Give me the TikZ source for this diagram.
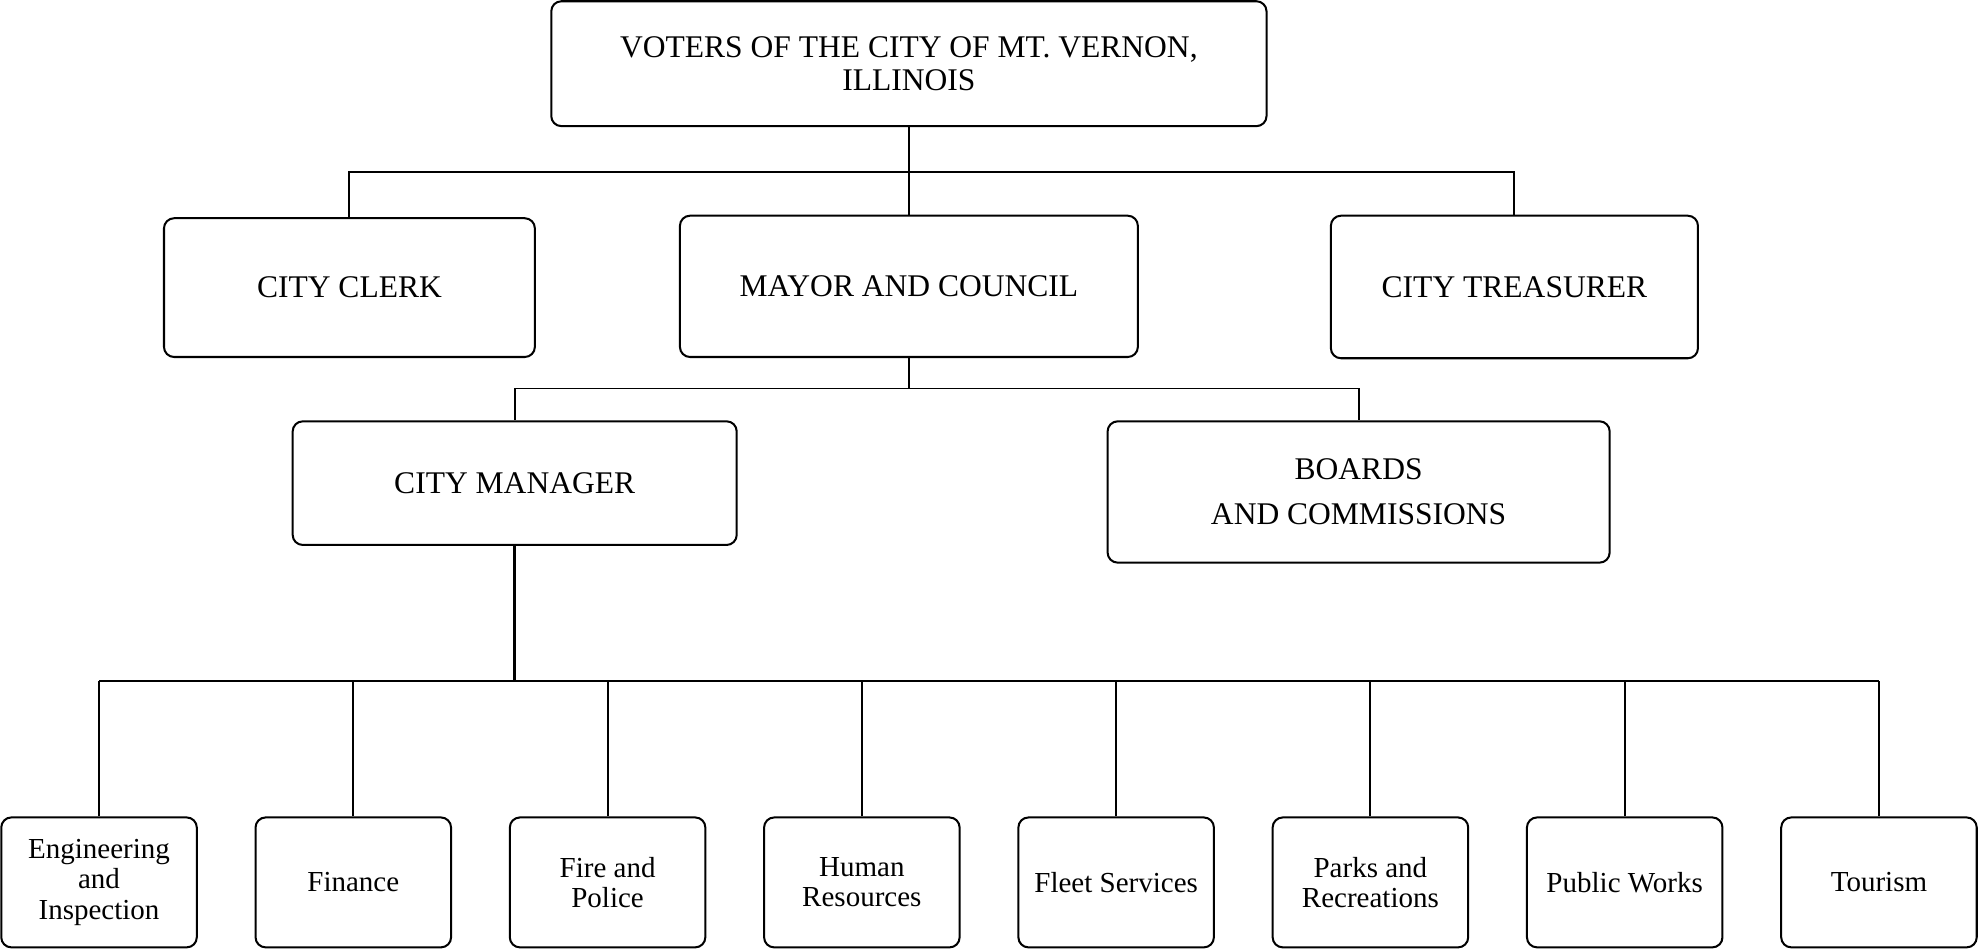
\documentclass[tikz,border=0pt]{standalone}
\usepackage{fontspec}
\setmainfont{Liberation Serif}
\usetikzlibrary{positioning}

\tikzset{
  office/.style={draw, rounded corners=4pt, line width=0.8pt, align=center,
                 inner sep=0pt, font=\fontsize{12.5}{13}\selectfont},
  dept/.style={office, minimum width=77.5pt, minimum height=51.5pt,
               font=\fontsize{11.5}{12}\selectfont},
  link/.style={line width=0.75pt},
  mainlink/.style={line width=1.2pt}
}

\begin{document}
\begin{tikzpicture}[x=0.5pt, y=-0.5pt]
  \useasboundingbox (0,0) rectangle (1568,753);
  % Top node
  \node(voters)[office, minimum width=283.5pt, minimum height=49.5pt] at (720.5,50.5)
       {VOTERS OF THE CITY OF MT. VERNON,\\ILLINOIS};
  % Elected offices
  \node(clerk)[office, minimum width=147pt, minimum height=55pt] at (277,228) {CITY CLERK};
  \node(mayor)[office, minimum width=181.5pt, minimum height=56pt] at (720.5,227) {MAYOR AND COUNCIL};
  \node(treasurer)[office, minimum width=145.5pt, minimum height=56.5pt] at (1200.5,227.5) {CITY TREASURER};
  % Appointed by council
  \node(manager)[office, minimum width=176pt, minimum height=49pt] at (408,383) {CITY MANAGER};
  \node(boards)[office, minimum width=199pt, minimum height=56pt,
                font=\fontsize{12.5}{18}\selectfont] at (1077,390) {BOARDS\\AND COMMISSIONS};
  % Bus coordinates
  \coordinate (topbus) at (720.5,136);
  \coordinate (midbus) at (720.5,308);
  \coordinate (deptbus) at (408,540);
  % Arrows
  \draw[link] (voters.south) -- (mayor.north);
  \draw[link] (topbus) -| (clerk.north);
  \draw[link] (topbus) -| (treasurer.north);
  \draw[link] (mayor.south) -- (midbus);
  \draw[link] (midbus) -| (manager.north);
  \draw[link] (midbus) -| (boards.north);
  \draw[mainlink] (manager.south) -- (deptbus);
  % Departments
  \foreach \name/\label [count=\i from 0] in {eng/{Engineering\\and\\Inspection},
      fin/Finance, fire/{Fire and\\Police}, hr/{Human\\Resources}, fleet/Fleet Services,
      parks/{Parks and\\Recreations}, works/Public Works, tour/Tourism}
  {
    \node(\name)[dept] at ({78.5+201.57*\i},699.5) {\label};
    \draw[link] (\name.north) -- (\name.north |- deptbus);
  }
  \draw[link] (eng.north |- deptbus) -- (tour.north |- deptbus);
\end{tikzpicture}
\end{document}
